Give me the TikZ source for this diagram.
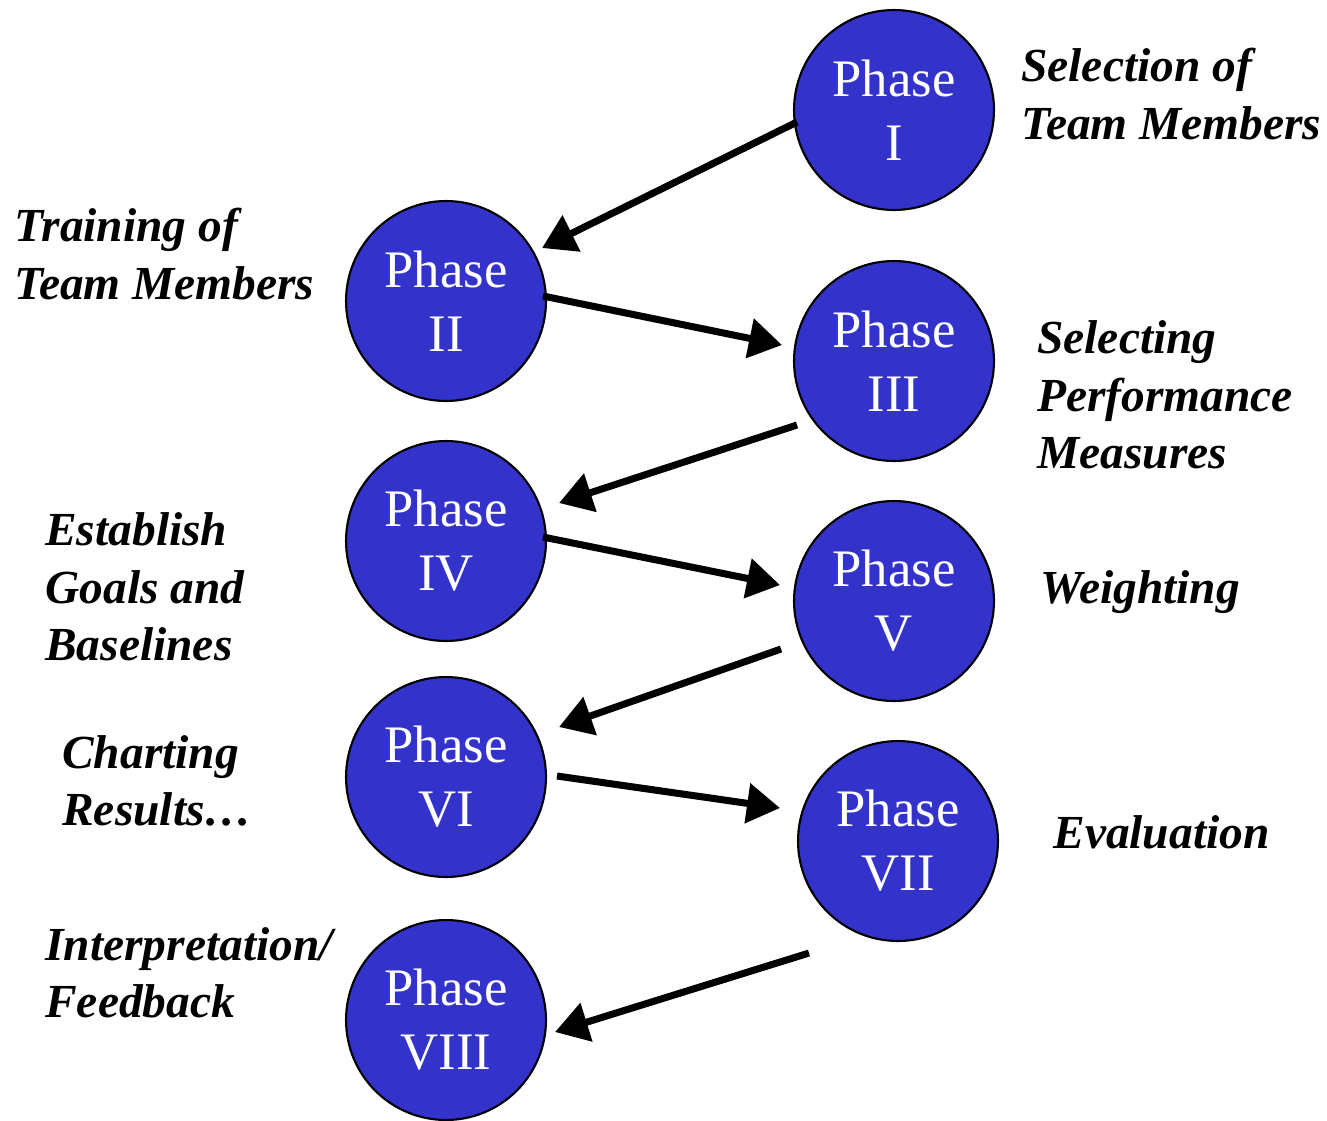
\documentclass[tikz,border=0pt]{standalone}
\usepackage{fontspec}
\setmainfont{Liberation Serif}
\usetikzlibrary{arrows.meta}
\definecolor{phaseblue}{HTML}{3333CC}
\tikzset{
  phase/.style={circle, draw=black, line width=1.2pt, fill=phaseblue, minimum size=4cm, inner sep=0pt,
    text=white, align=center, font=\fontsize{30}{36.4}\selectfont},
  lbl/.style={anchor=west, inner sep=0pt, align=left, font=\fontsize{27}{32.7}\selectfont\bfseries\itshape},
  flow/.style={line width=4pt, -{Triangle[length=0.66cm, width=0.78cm]}}
}
\begin{document}
\begin{tikzpicture}[x=0.02cm, y=-0.02cm]
\useasboundingbox (0,0) rectangle (1327,1120);
\node[phase] (I) at (894,110) {Phase\\I};
\node[phase] (II) at (446,301) {Phase\\II};
\node[phase] (III) at (894,361) {Phase\\III};
\node[phase] (IV) at (446,541) {Phase\\IV};
\node[phase] (V) at (894,601) {Phase\\V};
\node[phase] (VI) at (446,777) {Phase\\VI};
\node[phase] (VII) at (898,841) {Phase\\VII};
\node[phase] (VIII) at (446,1020) {Phase\\VIII};

\node[lbl] (l1) at (1021,94) {Selection of\\Team Members};
\node[lbl] (l2) at (14,254) {Training of\\Team Members};
\node[lbl] (l3) at (1037,395) {Selecting\\Performance\\Measures};
\node[lbl] (l4) at (45,587) {Establish\\Goals and\\Baselines};
\node[lbl] (l5) at (1040,592) {Weighting};
\node[lbl] (l6) at (62,781) {Charting\\Results\ldots};
\node[lbl] (l7) at (1053,832) {Evaluation};
\node[lbl] (l8) at (45,973) {Interpretation/\\Feedback};

\coordinate (s1) at (797,122); \coordinate (t1) at (542,248);
\coordinate (s2) at (543,296); \coordinate (t2) at (782,345);
\coordinate (s3) at (797,425); \coordinate (t3) at (559,503);
\coordinate (s4) at (543,537); \coordinate (t4) at (780,585);
\coordinate (s5) at (781,649); \coordinate (t5) at (559,727);
\coordinate (s6) at (557,776); \coordinate (t6) at (780,808);
\coordinate (s7) at (809,953); \coordinate (t7) at (555,1032);
\foreach \i in {1,...,7} {\draw[flow] (s\i) -- (t\i);}
\end{tikzpicture}
\end{document}
